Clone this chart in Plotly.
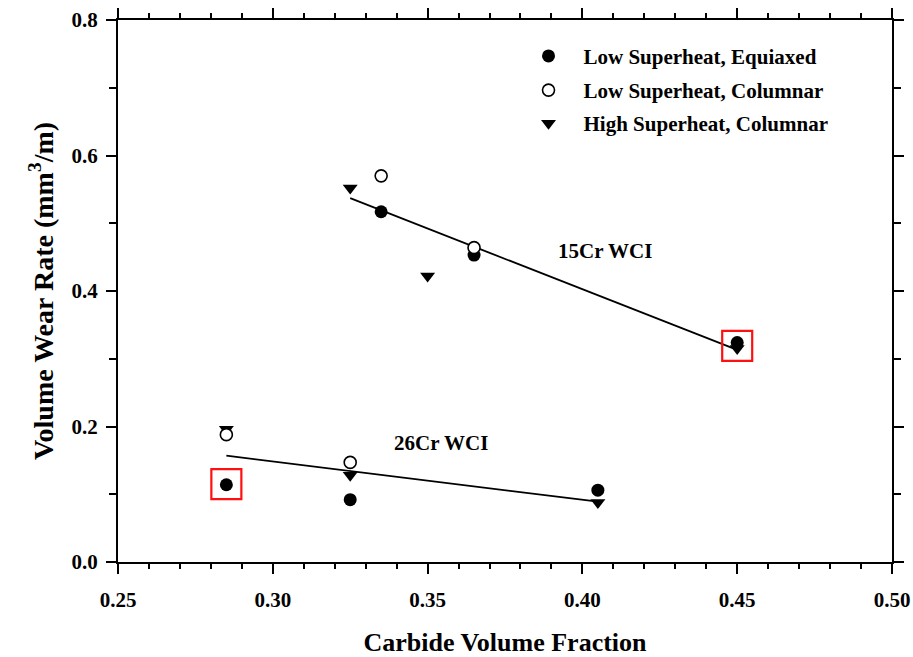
import plotly.graph_objects as go

# Data
eq_x = [0.335, 0.365, 0.45, 0.285, 0.325, 0.405]
eq_y = [0.517, 0.453, 0.324, 0.114, 0.092, 0.106]

col_x = [0.335, 0.365, 0.285, 0.325]
col_y = [0.570, 0.464, 0.188, 0.147]

hs_x = [0.325, 0.35, 0.45, 0.285, 0.325, 0.405]
hs_y = [0.552, 0.422, 0.315, 0.196, 0.128, 0.088]

fit15_x = [0.325, 0.45]
fit15_y = [0.537, 0.313]
fit26_x = [0.285, 0.405]
fit26_y = [0.157, 0.089]

hl_x = [0.285, 0.45]
hl_y = [0.115, 0.319]

labels = ["15Cr WCI", "26Cr WCI"]
label_x = [0.3915, 0.3384]
label_y = [0.459, 0.176]

x_ticks = [0.25, 0.30, 0.35, 0.40, 0.45, 0.50]
y_ticks = [0.0, 0.2, 0.4, 0.6, 0.8]

FONT = "Liberation Serif"

fig = go.Figure()
fig.add_trace(go.Scatter(x=fit15_x, y=fit15_y, mode="lines",
                         line=dict(color="black", width=1.8), showlegend=False))
fig.add_trace(go.Scatter(x=fit26_x, y=fit26_y, mode="lines",
                         line=dict(color="black", width=1.8), showlegend=False))
fig.add_trace(go.Scatter(x=eq_x, y=eq_y, mode="markers",
                         name="Low Superheat, Equiaxed",
                         marker=dict(symbol="circle", size=13, color="black"),
                         legend="legend"))
fig.add_trace(go.Scatter(x=hs_x, y=hs_y, mode="markers",
                         name="High Superheat, Columnar",
                         marker=dict(symbol="triangle-down", size=13, color="black"),
                         legend="legend3"))
fig.add_trace(go.Scatter(x=col_x, y=col_y, mode="markers",
                         name="Low Superheat, Columnar",
                         marker=dict(symbol="circle", size=12, color="white",
                                     line=dict(color="black", width=1.6)),
                         legend="legend2"))
fig.add_trace(go.Scatter(x=hl_x, y=hl_y, mode="markers",
                         marker=dict(symbol="square-open", size=30, color="#ff1010",
                                     line=dict(color="#ff1010", width=2.2)),
                         showlegend=False))

for t, xx, yy in zip(labels, label_x, label_y):
    fig.add_annotation(x=xx, y=yy, text=t, showarrow=False, xanchor="left",
                       yanchor="middle",
                       font=dict(family=FONT, size=21, color="black", weight="bold"))

leg_common = dict(x=0.511, xanchor="left", yanchor="middle", bgcolor="rgba(0,0,0,0)",
                  itemwidth=60,
                  font=dict(family=FONT, size=21, color="black", weight="bold"))
fig.update_layout(
    legend=dict(y=0.933, **leg_common),
    legend2=dict(y=0.870, **leg_common),
    legend3=dict(y=0.809, **leg_common),
)

fig.update_layout(
    width=913, height=657,
    margin=dict(l=118, r=21, t=20, b=95),
    paper_bgcolor="white", plot_bgcolor="white",
    xaxis=dict(range=[0.25, 0.50], tickvals=x_ticks, tickformat=".2f",
               automargin=False,
               showgrid=False, zeroline=False, showline=True, linecolor="black",
               linewidth=2, mirror="allticks", ticks="outside", ticklen=10,
               tickwidth=2, tickcolor="black", ticklabelstandoff=8,
               minor=dict(dtick=0.01, ticks="outside", ticklen=5, tickwidth=1.5,
                          tickcolor="black", showgrid=False),
               tickfont=dict(family=FONT, size=21, color="black", weight="bold"),
               title=dict(text="Carbide Volume Fraction", standoff=22,
                          font=dict(family=FONT, size=26, color="black", weight="bold"))),
    yaxis=dict(range=[0.0, 0.8], tickvals=y_ticks, tickformat=".1f",
               automargin=False,
               showgrid=False, zeroline=False, showline=True, linecolor="black",
               linewidth=2, mirror="allticks", ticks="outside", ticklen=10,
               tickwidth=2, tickcolor="black", ticklabelstandoff=4,
               minor=dict(dtick=0.1, ticks="outside", ticklen=7, tickwidth=1.5,
                          tickcolor="black", showgrid=False),
               tickfont=dict(family=FONT, size=21, color="black", weight="bold"),
               title=dict(text="Volume Wear Rate (mm<sup>3</sup>/m)", standoff=10,
                          font=dict(family=FONT, size=28, color="black", weight="bold"))),
)

fig.write_html("out.html")
